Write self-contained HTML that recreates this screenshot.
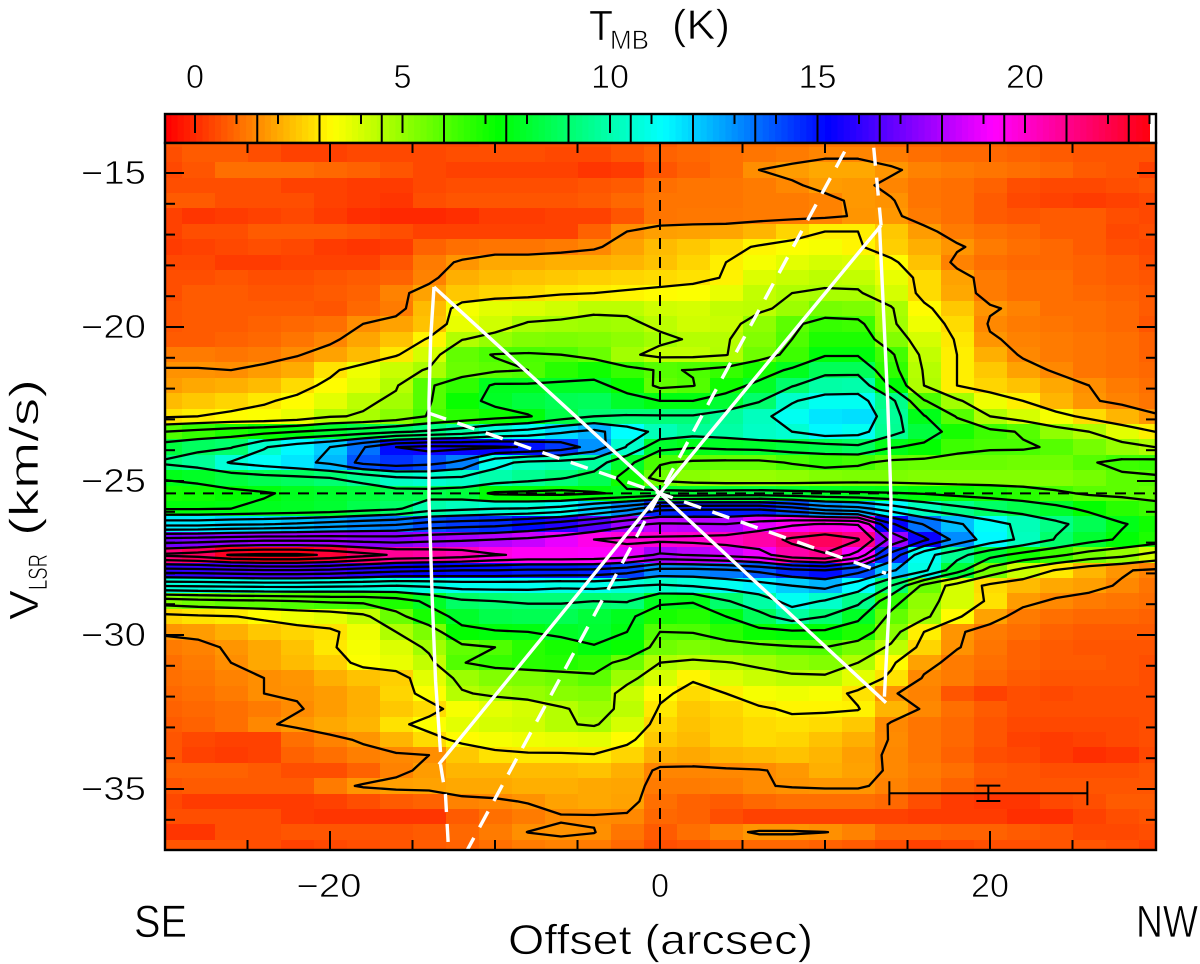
<!DOCTYPE html>
<html lang="en">
<head>
<meta charset="utf-8">
<title>Position-velocity diagram</title>
<style>
html,body{margin:0;padding:0;background:#fff;}
svg{display:block;}
text{font-family:"Liberation Sans",sans-serif;fill:#000;stroke:#fff;stroke-width:.7px;}
</style>
</head>
<body>
<svg id="chart" xmlns="http://www.w3.org/2000/svg" width="1200" height="964" viewBox="0 0 1200 964">
  <defs><clipPath id="plot-clip"><rect x="165" y="143" width="991" height="707"/></clipPath></defs>
  <g id="colorbar"></g>
  <g clip-path="url(#plot-clip)">
    <g id="heatmap"></g>
    <g id="contours"></g>
    <g id="guides"></g>
    <g id="model"></g>
  </g>
  <g id="errorbar"></g>
  <g id="axes"></g>
  <text x="589" y="40" font-size="43" textLength="24" lengthAdjust="spacingAndGlyphs">T</text>
  <text x="610" y="49" font-size="27" textLength="39" lengthAdjust="spacingAndGlyphs">MB</text>
  <text x="672" y="39" font-size="42" textLength="58" lengthAdjust="spacingAndGlyphs">(K)</text>
  <text x="508" y="954" font-size="42" textLength="305" lengthAdjust="spacingAndGlyphs">Offset (arcsec)</text>
  <text x="134" y="937" font-size="45" textLength="53" lengthAdjust="spacingAndGlyphs">SE</text>
  <text x="1136" y="937" font-size="45" textLength="62" lengthAdjust="spacingAndGlyphs">NW</text>
  <g transform="translate(38,620) rotate(-90)">
    <text x="0" y="0" font-size="41" textLength="30" lengthAdjust="spacingAndGlyphs">V</text>
    <text x="30" y="9" font-size="27" textLength="36" lengthAdjust="spacingAndGlyphs">LSR</text>
    <text x="84" y="0" font-size="41" textLength="157" lengthAdjust="spacingAndGlyphs">(km/s)</text>
  </g>
</svg>
<script>
const offsets=[-30,-28,-26,-24,-22,-20,-18,-16,-14,-12,-10,-8,-6,-4,-2,0,2,4,6,8,10,12,14,16,18,20,22,24,26,28,30];
const velocities=[-13.9,-14.4,-14.9,-15.4,-15.9,-16.4,-16.9,-17.4,-17.9,-18.4,-18.9,-19.4,-19.9,-20.4,-20.9,-21.4,-21.9,-22.4,-22.9,-23.4,-23.9,-24.4,-24.9,-25.4,-25.9,-26.4,-26.9,-27.4,-27.9,-28.4,-28.9,-29.4,-29.9,-30.4,-30.9,-31.4,-31.9,-32.4,-32.9,-33.4,-33.9,-34.4,-34.9,-35.4,-35.9,-36.4,-36.9];
const temperature=[
[.6,.7,.7,.5,.3,.3,.4,.4,.4,.4,.5,.5,.5,.5,.6,.7,.9,.9,1,1,1.1,1.1,.9,.8,.8,.8,.7,.7,.6,.6,.7],
[.5,.7,.7,.5,.3,.3,.4,.4,.4,.5,.5,.5,.4,.4,.6,.8,.9,1,1.1,1.2,1.35,1.35,1.2,1,.9,.9,.8,.7,.6,.6,.6],
[.4,.6,1,1,1,.9,.8,.6,.4,.3,.3,.3,.3,.1,.2,.6,.8,1,1.5,1.7,1.9,1.9,1.6,1.3,1.2,1.1,1,.9,.7,.6,.3],
[.5,.5,.5,.5,.3,.3,.2,.2,.4,.5,.5,.5,.5,.6,.7,1,1.1,1.1,1.2,1.4,1.7,1.65,1.35,1.1,1,.8,.5,.4,.4,.5,.6],
[.7,.7,.5,.5,.5,.3,.2,.1,.5,.6,.6,.6,.6,.7,.9,1.1,1.1,1.1,1.2,1.2,1.3,1.65,1.55,1.1,1,.7,.4,.3,.2,.3,.4],
[.3,.1,.2,.3,.4,.2,0,-.1,-.1,0,.2,.2,.3,.3,.6,1.1,1.15,1.15,1.2,1.2,1.3,1.6,1.65,1.2,1,.7,.6,.7,.7,.5,.4],
[.3,.5,.5,.7,.7,.7,.6,.5,.3,.3,.3,.3,.3,.8,1.5,1.75,1.8,1.85,2.1,2.6,3,3,2.4,1.7,1.2,1,.9,.7,.7,.4,.5],
[.2,.3,.4,.5,.4,.2,.1,.2,.8,1,1.1,1.1,1.2,1.4,1.8,2.2,2.4,2.7,3.1,3.3,3.4,3.1,2.5,2,1.6,1.2,1,.9,.7,.5,.4],
[.4,.4,.2,.2,.3,.3,.3,.6,1.2,1.6,1.9,1.9,2,2,2.1,2.3,2.6,3,3.4,3.7,3.9,3.8,3.2,2.3,1.3,1,.9,.9,.8,.7,.5],
[.5,.5,.6,.5,.5,.6,.7,.8,1.3,2,2.2,2.3,2.4,2.5,2.6,2.7,2.8,3.05,3.8,4.1,4.3,4.2,3.6,2.7,1.8,1.2,1,1,.8,.7,.6],
[.5,.7,.7,.6,.6,.7,.8,1.3,1.8,2.4,2.6,2.7,2.9,3,3.1,3.2,3.3,3.6,4.2,4.5,4.6,4.6,3.9,2.7,1.9,1.2,1,1,.9,.8,.7],
[.6,.7,.7,.7,.7,.6,.9,1.2,2.2,3.4,3.7,3.8,4,4.3,4.3,4,3.9,4.2,4.3,4.8,5.4,5.3,4.6,3.2,2.4,1.6,1.3,1,1,.9,.7],
[.6,.7,.7,.8,.9,1,1.5,1.8,2.3,3.6,4,4.6,4.7,4.8,4.7,4.3,4,4.1,5,5.8,6.4,6.3,4.7,3.5,2.7,1.4,1.2,1.1,1,.9,.6],
[.7,.7,.8,.9,1.1,1.35,1.85,2.3,3.1,4.45,4.9,5.2,5.3,5.2,5,4.7,4.4,4.4,5.2,6,6.8,6.8,5.2,3.9,2.9,1.6,1.3,1.2,1.1,1,.8],
[1.2,1.2,1.1,1.2,1.45,1.8,2.2,2.9,3.9,5.7,6.05,6.1,6,5.6,4.7,4.2,4.2,4.45,5.5,6.3,7.4,7.4,6.2,4.2,3,2,1.4,1.2,1.1,1,.8],
[1.55,1.55,1.5,1.7,1.95,2.8,3.5,4.1,4.6,5.6,5.8,6,6.6,7,6.4,5.9,6.05,6.4,6.9,7.7,8.6,8.6,6.5,4.4,3,2.4,1.8,1.4,1.1,1,.9],
[1.7,1.9,2,2.2,2.7,3.2,3.7,4.4,5.9,6.5,7.7,7.7,7.8,7.8,7.1,5.7,5.95,7,7.8,8.9,9.8,9.9,7.3,4.5,3,2.6,2.3,1.9,1.5,1.2,1],
[2.2,2.4,2.6,2.9,3.2,3.7,4.3,4.7,5.9,7.1,7.8,8.2,8.5,8.6,7.9,7.5,7.5,8,8.9,10.4,11,11,9.4,6.1,4.7,3.5,3,2.1,1.6,1.3,1.1],
[2.8,3,3.2,3.3,3.6,4.4,4.6,5.1,6.1,6.6,7,7.4,8.3,9,9.1,9.1,9.1,9.6,10.2,11,11.6,11.7,9.6,7.6,5.9,4.5,3.9,3.4,2.7,2.1,1.6],
[6,6.4,6.8,7.1,7.5,7.9,8.3,8.8,9.2,9.7,10.6,11,11.8,12.4,11.2,10.1,9.6,9.8,10.3,10.5,11.3,11,9.5,8.2,6.9,6.3,5.9,5,4.5,3.7,3],
[8.2,8.7,8.9,10.4,11.3,12,13.4,15,15.4,15.3,15.2,14.9,14.3,12.9,10.4,7.9,7.6,7.8,7.9,8.2,8.4,8.7,7.6,7.2,6.3,6.1,6.1,5.9,5.4,4.9,4.5],
[9.2,9.6,10.6,11.1,11.6,12.3,13.9,14.4,14,13.2,10.9,10.2,10,9.7,7.9,6.1,5.8,5.7,5.7,6.1,6.4,6.2,5.7,5.6,5.6,5.6,5.5,5.5,5.9,6.3,6.4],
[7.6,7.8,8.2,8.5,8.7,9,9.5,10.3,10.5,10.3,9.9,9.5,9.1,8.5,7,5.5,5.1,4.9,4.9,5,5.2,5.3,5.3,5.2,5.2,5.2,5.2,5.2,5.4,5.8,5.9],
[6.9,7,7.2,7.4,7.7,7.9,8.1,8.4,8.4,8.2,7.3,7.2,7.1,7.4,7.7,8,8,8.1,8.2,8,7.8,7.7,7.6,7.4,7.1,6.9,6.6,6.2,5.85,5.8,5.7],
[7.4,7.4,7.5,7.7,7.8,8,8.4,8.8,9.9,10.2,10.5,10.6,11,12,13,14.6,14.8,14.8,14.8,14,12.9,12.5,11.3,10.2,9.4,8.8,8.4,7.9,7.2,6.6,6.3],
[11.5,11.5,11.8,11.9,12.2,12.6,13,13.3,14,14.3,14.5,15,15.7,16.5,17.6,18.2,18.1,18,18.7,19.3,19.6,19.4,15.2,13.4,12.2,11.1,10.1,9.3,8.5,7.6,7],
[17,17.2,17.4,17.6,17.6,17.6,17.4,17.3,17.6,17.8,18,18.3,18.8,19.5,19.8,19.8,19.9,20.1,20.5,21.2,21.7,21.1,17.6,15.3,13,11.3,10.2,8.9,8,7.3,6.8],
[21.3,21.7,22.6,22.8,22.8,22.3,21.5,20.8,20.6,20.3,19.6,19.3,19.3,19.2,18.8,17.8,18.1,18.4,18.9,20.5,20.9,19,14.5,11,9.5,8,7,6.3,5.4,4.9,4],
[15.9,16,16.2,16.4,16.4,16.2,15.8,15.4,15.2,15,15,14.8,14.8,14.7,14.2,13,13,13.3,13.8,14.6,15,14,12.2,10.8,8.1,5.4,4.1,2.9,2.1,1.6,1.3],
[10.6,10.7,10.8,10.9,10.9,10.8,10.7,10.5,10.7,11,11,11,10.8,10.9,10.6,10.3,10.6,11,11.4,12,12.4,11.2,9,5.6,3.9,2.7,2.2,1.9,1.75,1.4,1.1],
[5.2,5.5,5.7,5.8,6,6.2,6.3,6.8,7.8,8.8,9,9.1,9.1,9,9.1,7.7,7.6,8.9,9.8,11,10.4,9.4,6.5,5,3.9,2.8,1.7,1.4,1.2,1.1,1],
[2.6,2.8,2.95,3.2,3.5,3.7,4.2,5.6,6.9,7.9,8.4,8.5,8.5,8.1,7.7,6.9,6.7,7.5,8.6,9.7,9,7.8,5.7,4.8,3.2,1.8,1.2,1,.9,.9,.8],
[1.6,1.7,2,2.4,2.6,2.8,3.5,4.5,5.3,7.2,7.4,7.5,7.8,8,7.5,6,6.05,6.6,7.1,7.3,7.3,6.8,5.1,3,1.6,1.2,1,.8,.7,.7,.7],
[1.2,1.3,1.6,1.9,2.3,2.9,3.4,3.8,4.7,5.7,6,6.6,6.9,7.4,7.1,5.5,5.3,5.5,5.7,5.9,6,5.4,4.3,2.6,1.55,1.1,.8,.7,.6,.6,.6],
[1,1.2,1.5,1.9,2.2,2.5,3.3,3.6,4.2,5.95,6.4,6.6,6.7,6.5,5.6,4.5,4.3,4.45,4.7,5,5.2,4.5,3.2,1.8,1.2,1,.8,.7,.7,.6,.5],
[1,1.1,1.3,1.5,1.6,2,2.3,2.5,3.7,4.8,5.2,5.3,5.5,5.8,4.8,3.9,3.1,3.8,4.1,4.3,4.3,3.7,2.8,1.4,1.2,.9,.7,.6,.6,.6,.5],
[.9,1,1.2,1.5,1.55,1.7,2,2.6,3.3,4.4,4.7,4.9,5.1,5.2,4.1,3.2,2.7,3,3.4,3.5,3.4,2.8,1.55,1.3,.6,.3,.5,.4,.5,.5,.5],
[.8,.9,1,1.2,1.45,1.7,2,2.4,2.7,3.4,3.7,3.9,4.4,4.8,4.3,2.9,2.4,2.6,2.9,3.1,3.1,3.05,2.1,1.4,1,.7,.5,.5,.5,.5,.5],
[.7,.8,1,1.4,1.65,1.9,2.1,2.8,3.3,3.7,3.9,4,4.4,4.6,3.9,2.6,2.3,2.5,2.7,2.8,2.7,2.4,1.4,1.1,.9,.6,.4,.4,.4,.4,.5],
[.6,.4,.3,.3,1,1.3,1.6,2.1,2.7,3.2,3.4,3.5,3.6,3.7,3.2,2.4,2.2,2.5,2.7,2.6,2.3,2,1.45,1.1,.9,.6,.3,.2,.3,.4,.5],
[.6,.3,.2,.3,.8,1,1.25,1.4,1.5,2.4,2.8,2.9,2.9,2.95,2.6,2,1.9,2.1,2.2,2.3,2.1,1.75,1.4,1.1,.8,.5,.4,.2,0,.1,.4],
[.8,.8,.8,.7,.5,.5,.8,1.3,1.7,2.1,2.1,2.2,2.2,2.3,2,1.35,1.35,1.4,1.45,1.65,2,1.8,1.4,1.2,1,.7,.6,.5,.5,.5,.6],
[.6,.7,.7,.7,.7,1.2,1.6,1.75,1.8,1.9,1.9,2,2,1.9,1.85,1.2,1.2,1.25,1.45,1.55,1.6,1.6,1.3,1.1,.8,.6,.6,.6,.6,.6,.6],
[.4,.2,.2,.2,.2,.3,.5,.7,.8,1.3,1.4,1.55,1.8,1.9,1.8,1,.8,.7,.9,1,1,1,.9,.5,.2,.1,.1,.4,.5,.7,.7],
[.5,.5,.5,.5,.2,.1,.1,.1,.1,.7,1,1.2,1.45,1.45,1.4,.9,.8,.5,.3,.3,.3,.3,.3,.2,.2,.2,0,0,.3,.5,.6],
[.1,.1,.5,.5,.6,.6,.6,.6,.7,.9,1.2,1.51,1.58,1.52,1.1,.7,1,1.3,1.6,1.6,1.52,1.3,.9,.9,.8,.8,.7,.6,.4,.4,.5],
[.6,.6,.6,.5,.3,.4,.5,.6,.7,.8,1,1.2,1.3,1.2,.9,.5,.6,.8,.9,.9,.8,.7,.5,.3,.4,.5,.5,.6,.6,.5,.3]
];
const contourLevels=[1.5,3,4.5,6,7.5,9,10.5,12,13.5,15,16.5,18,19.5,21,22.5];
const xTicks=[-25,-20,-15,-10,-5,0,5,10,15,20,25];
const xTickLabels=[-20,0,20];
const yTicks=[-15,-16,-17,-18,-19,-20,-21,-22,-23,-24,-25,-26,-27,-28,-29,-30,-31,-32,-33,-34,-35,-36];
const yTickLabels=[-15,-20,-25,-30,-35];
const colorbarTicks=[0,1,2,3,4,5,6,7,8,9,10,11,12,13,14,15,16,17,18,19,20,21,22,23];
const colorbarTickLabels=[0,5,10,15,20];
const systemicVelocity=[-25.4];
const centralOffset=[0];
const solidDiagonalA={off:[-13.7,0,13.7],vel:[-18.7,-25.4,-32.2]};
const solidDiagonalB={off:[-13.4,0,13.4],vel:[-34.2,-25.4,-16.7]};
const solidCurveLeft={off:[-13.7,-13.9,-14.0,-14.0,-13.8,-13.6,-13.3],vel:[-18.7,-20.4,-22.4,-25.6,-28.9,-31.5,-33.8]};
const solidCurveRight={off:[13.3,13.6,13.8,14.0,13.9,13.6],vel:[-16.7,-20.1,-22.4,-25.6,-28.9,-32.0]};
const dashedSlope={off:[-14.0,0,13.7],vel:[-22.8,-25.4,-28.0]};
const dashedSteep={off:[-11.8,0,11.6],vel:[-37.1,-25.4,-13.9]};
const dashedTipTop={off:[13.4,12.9],vel:[-16.7,-13.9]};
const dashedTipBottom={off:[-13.3,-13.0,-12.8],vel:[-34.2,-35.2,-37.1]};
const errorBarOffset={center:19.9,half:6};
const errorBarVelocity={center:-35.14,half:0.25};

const NS='http://www.w3.org/2000/svg';
function xScale(o){return 660+o*16.5;}
function yScale(v){return 481+(-25-v)*30.8;}
function cbScale(t){return 195+t*41.5;}
function hueFor(t){return Math.max(0,Math.min(360,10.9+15.09*t));}
function colorFor(t){return 'hsl('+hueFor(t).toFixed(1)+',100%,50%)';}
function mk(tag,parent,attrs){
  const el=document.createElementNS(NS,tag);
  for(const k in attrs){el.setAttribute(k,attrs[k]);}
  parent.appendChild(el);
  return el;
}
function fmt(n){return n<0?'\u2212'+Math.abs(n):String(n);}
function labelWidth(n){
  const digits=String(Math.abs(n)).length;
  return (digits===1?18:38)+(n<0?27:0);
}

/* heatmap */
const heat=document.getElementById('heatmap');
temperature.forEach(function(row,j){
  row.forEach(function(t,i){
    const x0=Math.round(xScale(offsets[i]-1));
    const x1=Math.round(xScale(offsets[i]+1));
    const y0=Math.round(yScale(velocities[j]+0.25));
    const y1=Math.round(yScale(velocities[j]-0.25));
    const cell=mk('rect',heat,{x:x0,y:y0,width:x1-x0,height:y1-y0,fill:colorFor(t)});
    
    
  });
});

/* contours via marching squares */
const contourGroup=document.getElementById('contours');
function cross(a,b,level){return (level-a)/(b-a);}
contourLevels.forEach(function(level){
  let d='';
  for(let j=0;j<velocities.length-1;j++){
    for(let i=0;i<offsets.length-1;i++){
      const a=temperature[j][i],b=temperature[j][i+1],c=temperature[j+1][i+1],e=temperature[j+1][i];
      const x0=xScale(offsets[i]),x1=xScale(offsets[i+1]);
      const y0=yScale(velocities[j]),y1=yScale(velocities[j+1]);
      const pts={};
      if((a>=level)!==(b>=level)){pts.t=[x0+(x1-x0)*cross(a,b,level),y0];}
      if((b>=level)!==(c>=level)){pts.r=[x1,y0+(y1-y0)*cross(b,c,level)];}
      if((e>=level)!==(c>=level)){pts.b=[x0+(x1-x0)*cross(e,c,level),y1];}
      if((a>=level)!==(e>=level)){pts.l=[x0,y0+(y1-y0)*cross(a,e,level)];}
      const keys=Object.keys(pts);
      const seg=function(p,q){d+='M'+p[0].toFixed(1)+' '+p[1].toFixed(1)+'L'+q[0].toFixed(1)+' '+q[1].toFixed(1);};
      if(keys.length===2){seg(pts[keys[0]],pts[keys[1]]);}
      else if(keys.length===4){
        const mid=(a+b+c+e)/4;
        if((mid>=level)===(a>=level)){seg(pts.t,pts.r);seg(pts.b,pts.l);}
        else{seg(pts.t,pts.l);seg(pts.b,pts.r);}
      }
    }
  }
  const path=mk('path',contourGroup,{d:d,fill:'none',stroke:'#000','stroke-width':2.3,'stroke-linecap':'round','stroke-linejoin':'round'});
  
  
});

/* dashed reference lines */
const guides=document.getElementById('guides');
const vGuide=mk('line',guides,{x1:xScale(centralOffset[0]),x2:xScale(centralOffset[0]),y1:143,y2:850,stroke:'#000','stroke-width':2,'stroke-dasharray':'11 8'});


const hGuide=mk('line',guides,{x1:165,x2:1156,y1:yScale(systemicVelocity[0]),y2:yScale(systemicVelocity[0]),stroke:'#000','stroke-width':2,'stroke-dasharray':'11 8'});



/* white model overlay */
const modelGroup=document.getElementById('model');
function poly(series,dashed,name){
  const pts=series.off.map(function(o,i){return xScale(o).toFixed(1)+','+yScale(series.vel[i]).toFixed(1);}).join(' ');
  const el=mk('polyline',modelGroup,{points:pts,fill:'none',stroke:'#fff','stroke-width':3.4,'stroke-linejoin':'round'});
  if(dashed){el.setAttribute('stroke-dasharray','18 12');}
  
  
}
poly(solidDiagonalA,false,'model-solid-diagonal-a');
poly(solidDiagonalB,false,'model-solid-diagonal-b');
poly(solidCurveLeft,false,'model-solid-curve-left');
poly(solidCurveRight,false,'model-solid-curve-right');
poly(dashedSlope,true,'model-dashed-shallow');
poly(dashedSteep,true,'model-dashed-steep');
poly(dashedTipTop,true,'model-dashed-tip-top');
poly(dashedTipBottom,true,'model-dashed-tip-bottom');

/* error bar */
const ebGroup=document.getElementById('errorbar');
const ebx0=xScale(errorBarOffset.center-errorBarOffset.half),ebx1=xScale(errorBarOffset.center+errorBarOffset.half),ebx=xScale(errorBarOffset.center);
const eby=yScale(errorBarVelocity.center),eby0=yScale(errorBarVelocity.center+errorBarVelocity.half),eby1=yScale(errorBarVelocity.center-errorBarVelocity.half);
const ebPath=mk('path',ebGroup,{d:'M'+ebx0+' '+eby+'H'+ebx1+'M'+ebx0+' '+(eby-12)+'V'+(eby+12)+'M'+ebx1+' '+(eby-12)+'V'+(eby+12)+'M'+ebx+' '+eby0+'V'+eby1+'M'+(ebx-12)+' '+eby0+'H'+(ebx+12)+'M'+(ebx-12)+' '+eby1+'H'+(ebx+12),fill:'none',stroke:'#000','stroke-width':2});



/* colorbar */
const cb=document.getElementById('colorbar');
const cbStep=0.15;
for(let t=-0.72;t<23;t+=cbStep){
  const sw=mk('rect',cb,{x:cbScale(t).toFixed(2),y:114,width:(cbStep*41.5+0.6).toFixed(2),height:29,fill:colorFor(t)});
  
  
}
const cbEnd=mk('rect',cb,{x:1150,y:114,width:6,height:29,fill:'#fff'});


contourLevels.forEach(function(level){
  const l=mk('line',cb,{x1:cbScale(level),x2:cbScale(level),y1:114,y2:143,stroke:'#000','stroke-width':2});
  
  
});
colorbarTicks.forEach(function(t){
  const major=colorbarTickLabels.indexOf(t)>=0;
  const l=mk('line',cb,{x1:cbScale(t),x2:cbScale(t),y1:114,y2:114+(major?19:10),stroke:'#000','stroke-width':2});
  
  
});
colorbarTickLabels.forEach(function(t){
  const w=labelWidth(t);
  const tx=mk('text',cb,{x:cbScale(t),y:88,'font-size':33,'text-anchor':'middle',textLength:w,lengthAdjust:'spacingAndGlyphs'});
  tx.textContent=fmt(t);
  
  
});
const cbBox=mk('rect',cb,{x:165,y:114,width:991,height:29,fill:'none',stroke:'#000','stroke-width':2.4});



/* axes */
const axes=document.getElementById('axes');
const frame=mk('rect',axes,{x:165,y:143,width:991,height:707,fill:'none',stroke:'#000','stroke-width':2.4});


xTicks.forEach(function(o){
  const major=xTickLabels.indexOf(o)>=0;
  const len=major?19:10;
  const x=xScale(o);
  const top=mk('line',axes,{x1:x,x2:x,y1:143,y2:143+len,stroke:'#000','stroke-width':2});
  
  
  const bottom=mk('line',axes,{x1:x,x2:x,y1:850,y2:850-len,stroke:'#000','stroke-width':2});
  
  
});
xTickLabels.forEach(function(o){
  const tx=mk('text',axes,{x:xScale(o)+(o<0?-1:0),y:897,'font-size':33,'text-anchor':'middle',textLength:labelWidth(o),lengthAdjust:'spacingAndGlyphs'});
  tx.textContent=fmt(o);
  
  
});
yTicks.forEach(function(v){
  const major=yTickLabels.indexOf(v)>=0;
  const len=major?19:10;
  const y=yScale(v);
  const left=mk('line',axes,{x1:165,x2:165+len,y1:y,y2:y,stroke:'#000','stroke-width':2});
  
  
  const right=mk('line',axes,{x1:1156,x2:1156-len,y1:y,y2:y,stroke:'#000','stroke-width':2});
  
  
});
yTickLabels.forEach(function(v){
  const tx=mk('text',axes,{x:146,y:yScale(v)+11,'font-size':33,'text-anchor':'end',textLength:labelWidth(v),lengthAdjust:'spacingAndGlyphs'});
  tx.textContent=fmt(v);
  
  
});
</script>
</body>
</html>
